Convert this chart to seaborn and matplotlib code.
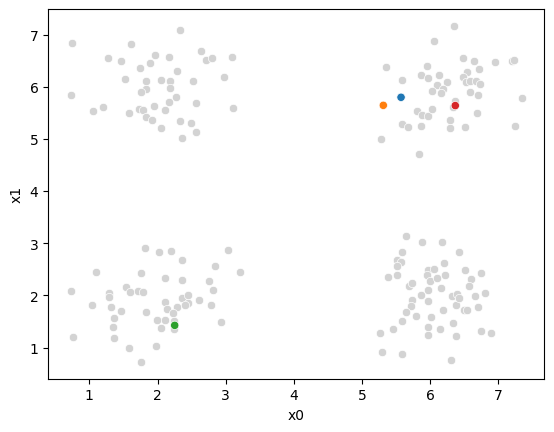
import seaborn as sns
import matplotlib.pyplot as plt
import pandas as pd

# background points
x0_tl = [0.741, 1.606, 2.335, 1.269, 1.460, 1.958, 2.164, 1.885, 1.738, 2.281,
         1.518, 1.832, 2.046, 2.178, 1.832, 1.753, 2.178, 0.726, 2.266, 2.164,
         1.049, 1.196, 1.577, 1.734, 1.782, 1.944, 2.105, 1.826, 1.914, 2.046,
         2.335, 2.357, 2.633, 2.706, 2.800, 3.088, 2.516, 2.971, 2.560, 3.103,
         2.487, 2.560]
x1_tl = [6.84, 6.82, 7.086, 6.553, 6.495, 6.616, 6.572, 6.457, 6.361, 6.304,
         6.150, 6.118, 6.131, 6.112, 5.959, 5.894, 5.974, 5.844, 5.805, 5.710,
         5.537, 5.614, 5.499, 5.575, 5.562, 5.633, 5.556, 5.422, 5.365, 5.211,
         5.345, 5.020, 6.687, 6.515, 6.553, 6.572, 6.112, 6.189, 5.690, 5.595,
         5.306, 5.135]

x0_tr = [6.345, 6.051, 5.347, 5.948, 5.582, 5.860, 5.963, 6.124, 6.095, 6.242,
         6.183, 6.154, 6.022, 6.359, 6.340, 5.802, 5.875, 5.963, 6.022, 5.582,
         5.670, 5.860, 6.286, 6.286, 5.274, 5.831, 6.477, 6.638, 6.946, 7.201,
         7.230, 6.711, 6.535, 6.477, 6.521, 6.585, 6.673, 6.732, 6.579, 6.697,
         7.342, 6.682, 6.506, 7.239]
x1_tr = [7.166, 6.879, 6.380, 6.400, 6.131, 6.227, 6.170, 6.227, 6.041, 6.093,
         5.959, 5.882, 5.920, 5.735, 5.614, 5.543, 5.460, 5.441, 5.575, 5.288,
         5.230, 5.250, 5.365, 5.211, 5.000, 4.713, 6.553, 6.495, 6.476, 6.501,
         6.515, 6.342, 6.285, 6.189, 6.093, 6.112, 6.112, 6.060, 5.901, 5.844,
         5.786, 5.499, 5.230, 5.250]

x0_bl = [1.812, 2.017, 2.203, 2.365, 1.093, 1.753, 2.105, 2.362, 0.726, 1.284,
         1.284, 1.533, 1.598, 1.719, 1.782, 1.034, 1.313, 1.460, 1.826, 2.105,
         2.134, 2.291, 2.362, 2.222, 1.357, 1.988, 2.105, 1.342, 2.046, 2.237,
         0.755, 1.357, 1.577, 1.973, 1.753, 3.029, 2.838, 3.205, 2.751, 2.809,
         2.442, 2.442, 2.398, 2.604, 2.780, 2.237, 2.927]
x1_bl = [2.911, 2.840, 2.854, 2.687, 2.451, 2.432, 2.336, 2.294, 2.087, 2.049,
         1.964, 2.163, 2.060, 2.087, 2.060, 1.818, 1.780, 1.703, 1.684, 1.876,
         1.742, 1.780, 1.953, 1.661, 1.569, 1.531, 1.531, 1.397, 1.378, 1.358,
         1.205, 1.186, 0.994, 1.033, 0.726, 2.873, 2.566, 2.451, 2.279, 2.106,
         2.010, 1.857, 1.818, 1.914, 1.818, 1.512, 1.493]

x0_br = [5.640, 5.875, 6.168, 5.582, 6.418, 5.508, 5.567, 5.508, 5.382, 5.514,
         5.963, 6.057, 5.954, 5.992, 6.095, 6.212, 6.198, 5.684, 5.728, 6.154,
         5.963, 5.860, 5.728, 5.963, 6.315, 6.389, 6.374, 5.714, 5.640, 5.787,
         6.007, 6.183, 5.582, 6.330, 5.450, 5.259, 5.963, 6.139, 5.963, 6.374,
         5.288, 5.582, 6.301, 6.506, 6.741, 6.594, 6.565, 6.799, 6.653, 6.418,
         6.697, 6.491, 6.536, 6.741, 6.887]
x1_br = [3.141, 3.026, 3.026, 2.834, 2.834, 2.681, 2.643, 2.566, 2.355, 2.394,
         2.489, 2.509, 2.394, 2.279, 2.336, 2.394, 2.624, 2.183, 2.240, 2.144,
         2.106, 2.010, 1.914, 1.895, 1.991, 2.029, 1.818, 1.799, 1.684, 1.608,
         1.588, 1.723, 1.512, 1.473, 1.358, 1.282, 1.397, 1.358, 1.243, 1.224,
         0.918, 0.879, 0.764, 2.489, 2.432, 2.317, 2.183, 2.049, 1.991, 1.953,
         1.780, 1.723, 1.723, 1.320, 1.282]

# highlighted points
hl_x0 = [5.573, 5.313, 2.252, 6.369]
hl_x1 = [5.798, 5.644, 1.427, 5.639]
hl_id = [0, 1, 2, 3]

df = pd.DataFrame({
    "x0": x0_tl + x0_tr + x0_bl + x0_br,
    "x1": x1_tl + x1_tr + x1_bl + x1_br,
})
hl = pd.DataFrame({"x0": hl_x0, "x1": hl_x1, "id": hl_id})

f, ax = plt.subplots(figsize=(6.4, 4.8))

sns.scatterplot(data=df, x="x0", y="x1", color="lightgray", ax=ax)
sns.scatterplot(data=hl, x="x0", y="x1", hue="id", palette="tab10",
                legend=False, ax=ax)

f.savefig("out.png", dpi=100, bbox_inches="tight")
